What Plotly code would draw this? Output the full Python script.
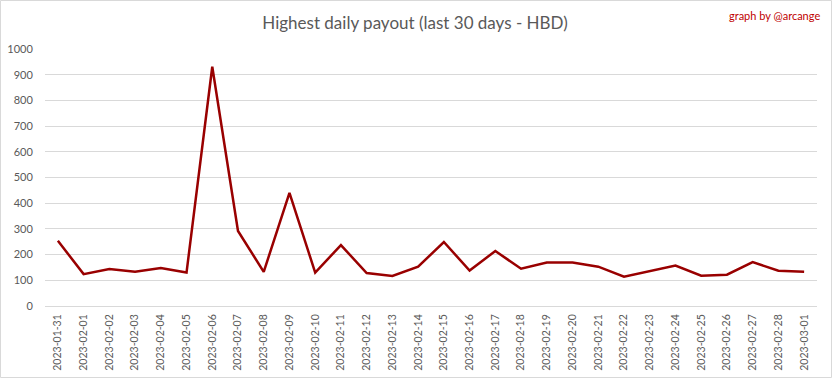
import plotly.graph_objects as go

dates = ["2023-01-31", "2023-02-01", "2023-02-02", "2023-02-03", "2023-02-04", "2023-02-05",
         "2023-02-06", "2023-02-07", "2023-02-08", "2023-02-09", "2023-02-10", "2023-02-11",
         "2023-02-12", "2023-02-13", "2023-02-14", "2023-02-15", "2023-02-16", "2023-02-17",
         "2023-02-18", "2023-02-19", "2023-02-20", "2023-02-21", "2023-02-22", "2023-02-23",
         "2023-02-24", "2023-02-25", "2023-02-26", "2023-02-27", "2023-02-28", "2023-03-01"]
payout = [254, 124, 144, 133, 148, 130, 931, 292, 133, 440, 130, 237, 128, 117, 153,
          249, 138, 214, 145, 169, 169, 153, 114, 136, 157, 118, 122, 171, 137, 133]
y_ticks = [0, 100, 200, 300, 400, 500, 600, 700, 800, 900, 1000]

W, H = 833, 379
L, R, T, B = 45, 16, 49, 73
pw, ph = W - L - R, H - T - B

fig = go.Figure()
fig.add_trace(go.Scatter(x=dates, y=payout, mode="lines",
                         line=dict(color="#990000", width=2.5), hoverinfo="x+y"))

font = "Lato, Carlito, 'Liberation Sans', sans-serif"
fig.update_layout(
    width=W, height=H,
    margin=dict(l=L, r=R, t=T, b=B, autoexpand=False),
    paper_bgcolor="white", plot_bgcolor="white",
    showlegend=False,
    font=dict(family=font, color="#595959", size=11),
    title=dict(text="Highest daily payout (last 30 days - HBD)", x=415 / W, xanchor="center",
               xref="container", y=1 - 23 / H, yanchor="middle",
               font=dict(size=17, color="#595959", family=font)),
    xaxis=dict(type="category", tickangle=-90, showgrid=False, zeroline=False,
               showline=False, ticks="outside", ticklen=3, tickcolor="rgba(0,0,0,0)",
               tickfont=dict(size=10.5, color="#595959"), automargin=False,
               range=[-0.5, len(dates) - 0.5]),
    yaxis=dict(range=[0, 1000], tickvals=y_ticks, showgrid=True, gridcolor="#D9D9D9",
               gridwidth=1, zeroline=True, zerolinecolor="#D9D9D9", zerolinewidth=1,
               showline=False, ticks="outside", ticklen=9, tickcolor="rgba(0,0,0,0)",
               tickfont=dict(size=11, color="#595959"), automargin=False),
)
fig.add_annotation(text="graph by @arcange", xref="paper", yref="paper",
                   x=(822 - L) / pw, y=(H - B - 15) / ph, xanchor="right", yanchor="middle",
                   showarrow=False, font=dict(size=11, color="#C00000", family=font))
fig.add_shape(type="rect", xref="paper", yref="paper",
              x0=(0.5 - L) / pw, x1=(W - 1.5 - L) / pw,
              y0=(H - B - (H - 1.5)) / ph, y1=(H - B - 0.5) / ph,
              line=dict(color="#D9D9D9", width=1), fillcolor="rgba(0,0,0,0)", layer="below")

fig.write_html("out.html", config={"displayModeBar": False},
               post_script="document.body.style.margin='0';document.body.style.overflow='hidden';")
